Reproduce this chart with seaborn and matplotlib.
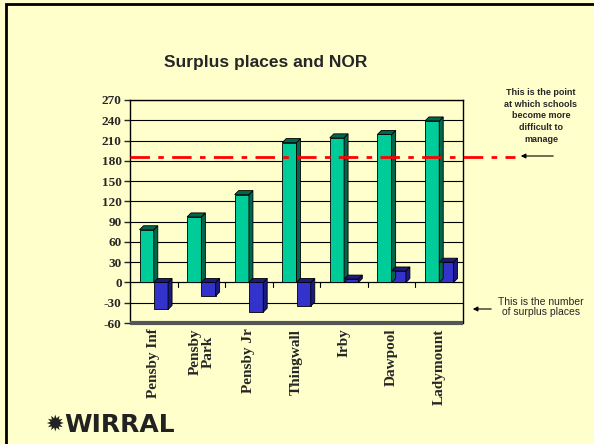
import numpy as np
import pandas as pd
import seaborn as sns
import matplotlib.pyplot as plt
from matplotlib.patches import Polygon, Rectangle

schools = ['Pensby Inf', 'Pensby\nPark', 'Pensby Jr', 'Thingwall', 'Irby', 'Dawpool', 'Ladymount']
nor = [78, 97, 130, 207, 214, 219, 239]
surplus = [-40, -20, -44, -35, 5, 17, 30]
threshold = 185
yticks = list(range(-60, 271, 30))

BG = '#FFFFCC'
GREEN, GREEN_SIDE = '#00CC99', '#00664D'
BLUE, BLUE_SIDE = '#3333CC', '#1A1A80'

df = pd.DataFrame({
    'school': schools * 2,
    'value': nor + surplus,
    'series': ['NOR'] * len(schools) + ['Surplus'] * len(schools),
})

sns.set_style('white')
plt.rcParams['font.family'] = ['Liberation Sans', 'DejaVu Sans']

fig = plt.figure(figsize=(5.94, 4.44), dpi=100, facecolor=BG)
ax = fig.add_axes([130 / 594, 1 - 323 / 444, 333 / 594, 223 / 444])
ax.set_facecolor(BG)

sns.barplot(data=df, x='school', y='value', hue='series', order=schools,
            palette=[GREEN, BLUE], saturation=1, width=0.6, edgecolor='black',
            linewidth=0.6, legend=False, ax=ax, zorder=3)

ax.set_ylim(-60, 270)
ax.set_xlim(-0.5, len(schools) - 0.5)
ax.set_yticks(yticks)
ax.yaxis.grid(True, color='black', linewidth=0.8, zorder=0)
ax.set_xlabel('')
ax.set_ylabel('')
for s in ax.spines.values():
    s.set_color('black')
    s.set_linewidth(1)
ax.spines['bottom'].set_visible(False)
ax.axhline(0, color='black', lw=0.8, zorder=2)

ax.set_yticklabels([str(t) for t in yticks], fontfamily='Liberation Serif',
                   fontweight='bold', fontsize=9.5)
ax.set_xticks(range(len(schools)))
ax.set_xticklabels(schools, rotation=90, fontfamily='Liberation Serif',
                   fontweight='bold', fontsize=11, va='top', linespacing=1.0)
ax.tick_params(axis='x', length=0, pad=4)
ax.tick_params(axis='y', length=4, width=1, direction='out', left=True, pad=2)

# fake 3d faces for each bar
d = 4
inv = ax.transData.inverted()
for p, side in zip(ax.patches, [GREEN_SIDE] * 7 + [BLUE_SIDE] * 7):
    x0, y0 = p.get_x(), p.get_y()
    x1, y1 = x0 + p.get_width(), y0 + p.get_height()
    ytop = max(y0, y1)
    ybot = min(y0, y1)
    (px0, pyb), (px1, pyt) = ax.transData.transform([(x0, ybot), (x1, ytop)])
    side_pts = inv.transform([(px1, pyb), (px1 + d, pyb + d), (px1 + d, pyt + d), (px1, pyt)])
    top_pts = inv.transform([(px0, pyt), (px0 + d, pyt + d), (px1 + d, pyt + d), (px1, pyt)])
    ax.add_patch(Polygon(side_pts, closed=True, facecolor=side, edgecolor='black', lw=0.6, zorder=3))
    ax.add_patch(Polygon(top_pts, closed=True, facecolor=side, edgecolor='black', lw=0.6, zorder=3))

# category divider ticks on the zero line
for i in range(1, len(schools)):
    ax.plot([i - 0.5, i - 0.5], [0, -6], color='black', lw=0.8, zorder=2)

# floor at the bottom of the chart
ax.plot([-0.5, len(schools) - 0.5], [-60, -60], color='#555555', lw=3,
        solid_capstyle='butt', clip_on=False, zorder=4)

# threshold line running out past the chart
ax.axhline(threshold, xmin=0, xmax=(515 - 130) / 333, color='red', lw=2,
           dashes=(7, 3, 2, 3), clip_on=False, zorder=5)

fig.text(266 / 594, 1 - 63 / 444, 'Surplus places and NOR', ha='center', va='center',
         fontsize=12.5, fontweight='bold')

fig.text(541 / 594, 1 - 116 / 444,
         'This is the point\nat which schools\nbecome more\ndifficult to\nmanage',
         ha='center', va='center', fontsize=6.5, fontweight='bold', linespacing=1.4)
ax.annotate('', xy=(518, 444 - 156), xytext=(556, 444 - 156), xycoords='figure pixels',
            arrowprops=dict(arrowstyle='-|>', color='black', lw=0.8, mutation_scale=7))

fig.text(541 / 594, 1 - 307 / 444, 'This is the number\nof surplus places',
         ha='center', va='center', fontsize=7.5, linespacing=1.05)
ax.annotate('', xy=(470, 444 - 309), xytext=(494, 444 - 309), xycoords='figure pixels',
            arrowprops=dict(arrowstyle='-|>', color='black', lw=0.8, mutation_scale=7))

fig.text(45 / 594, 1 - 425 / 444, '\u2739', ha='left', va='center', fontsize=16,
         fontfamily='DejaVu Sans', color='#222222')
fig.text(64 / 594, 1 - 425 / 444, 'WIRRAL', ha='left', va='center', fontsize=18,
         fontweight='heavy', fontfamily='DejaVu Sans', color='#222222')

# slide border
fig.add_artist(Rectangle((6 / 594, -0.05), 1.1, 1 - 4 / 444 + 0.05, transform=fig.transFigure,
                         fill=False, edgecolor='black', lw=2))

fig.savefig('out.png', dpi=100, facecolor=BG)
